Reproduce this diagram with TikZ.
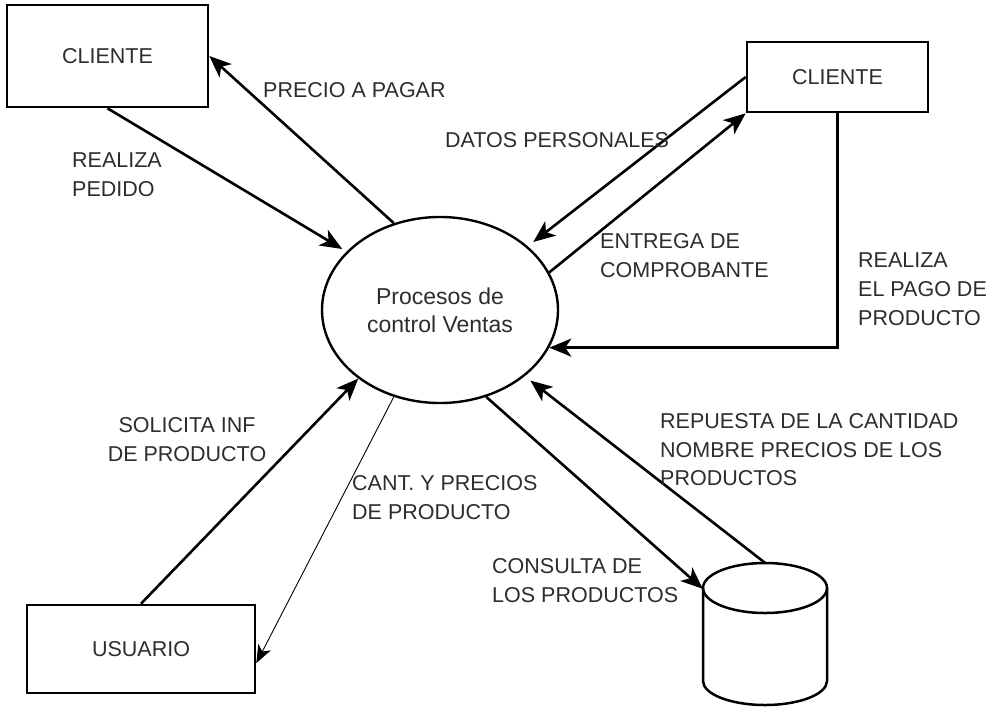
\documentclass[tikz,border=0pt]{standalone}
\usepackage{fontspec}
\setmainfont{Liberation Sans}
\usetikzlibrary{shapes.geometric,arrows.meta}
\definecolor{txtgray}{RGB}{45,45,45}
\newcommand\lblsize{\fontsize{21.5}{28.8}\selectfont}
\newcommand\procsize{\fontsize{23}{28}\selectfont}
\begin{document}
\begin{tikzpicture}[x=1pt,y=-1pt,
  entbox/.style={draw,line width=2.6pt,inner sep=0pt,font=\lblsize,text=txtgray},
  flow/.style={line width=2.6pt,-{Stealth[length=22pt,width=18pt,inset=6pt]}},
  thinflow/.style={line width=0.9pt,-{Stealth[length=18pt,width=14pt,inset=5pt]}},
  shapeline/.style={line width=2.5pt},
  lbl/.style={inner sep=0pt,font=\lblsize,text=txtgray,align=left,anchor=north west},
  lblc/.style={inner sep=0pt,font=\lblsize,text=txtgray,align=center,anchor=north}]
\fill[white] (0,0) rectangle (992,707);
\useasboundingbox (0,0) rectangle (992,707);

% entities
\node[entbox,minimum width=201pt,minimum height=102pt] (c1) at (107.5,56) {CLIENTE};
\node[entbox,minimum width=181pt,minimum height=70pt] (c2) at (837.5,77) {CLIENTE};
\node[entbox,minimum width=228pt,minimum height=88pt] (u) at (141,649) {USUARIO};

% process
\node[ellipse,draw,line width=2.4pt,minimum width=236pt,minimum height=186pt,inner sep=0pt,
      align=center,font=\procsize,text=txtgray] (proc) at (440,310) {Procesos de\\control Ventas};

% data store (cylinder)
\node[inner sep=0pt,minimum width=124pt,minimum height=142pt] (db) at (765,634) {};
\draw[shapeline] (703,588) -- (703,681) arc[start angle=180,end angle=360,x radius=62pt,y radius=24pt] -- (827,588);
\draw[shapeline] (765,588) ellipse[x radius=62pt,y radius=25pt];

% connectors
\draw[flow,shorten >=5pt] (c1.south) -- (proc.148);
\draw[flow] (proc.118) -- (c1.east);
\draw[flow,shorten >=7pt] (c2.west) -- (proc.36);
\draw[flow] (proc.19) -- (c2.south west);
\draw[flow] (c2.south) |- (proc.-19);
\draw[flow,shorten >=7pt] (db.north) -- (proc.-38);
\draw[flow] (proc.-62.6) -- (db.144.6);
\draw[flow] (u.north) -- (proc.220.4);
\draw[thinflow] (proc.242.4) -- (u.-7);

% labels
\node[lbl] (lprecio) at (263,82) {PRECIO A PAGAR};
\node[lbl] (lpedido) at (72,153) {REALIZA\\PEDIDO};
\node[lbl] (ldatos) at (445,132) {DATOS PERSONALES};
\node[lbl] (lentrega) at (600,233) {ENTREGA DE\\COMPROBANTE};
\node[lbl] (lpago) at (858,253) {REALIZA\\EL PAGO DE\\PRODUCTO};
\node[lbl] (lrespuesta) at (660,413) {REPUESTA DE LA CANTIDAD\\NOMBRE PRECIOS DE LOS\\PRODUCTOS};
\node[lbl] (lconsulta) at (492,558) {CONSULTA DE\\LOS PRODUCTOS};
\node[lblc] (lsolicita) at (187,417) {SOLICITA INF\\DE PRODUCTO};
\node[lbl] (lcant) at (352,475) {CANT. Y PRECIOS\\DE PRODUCTO};
\end{tikzpicture}
\end{document}
